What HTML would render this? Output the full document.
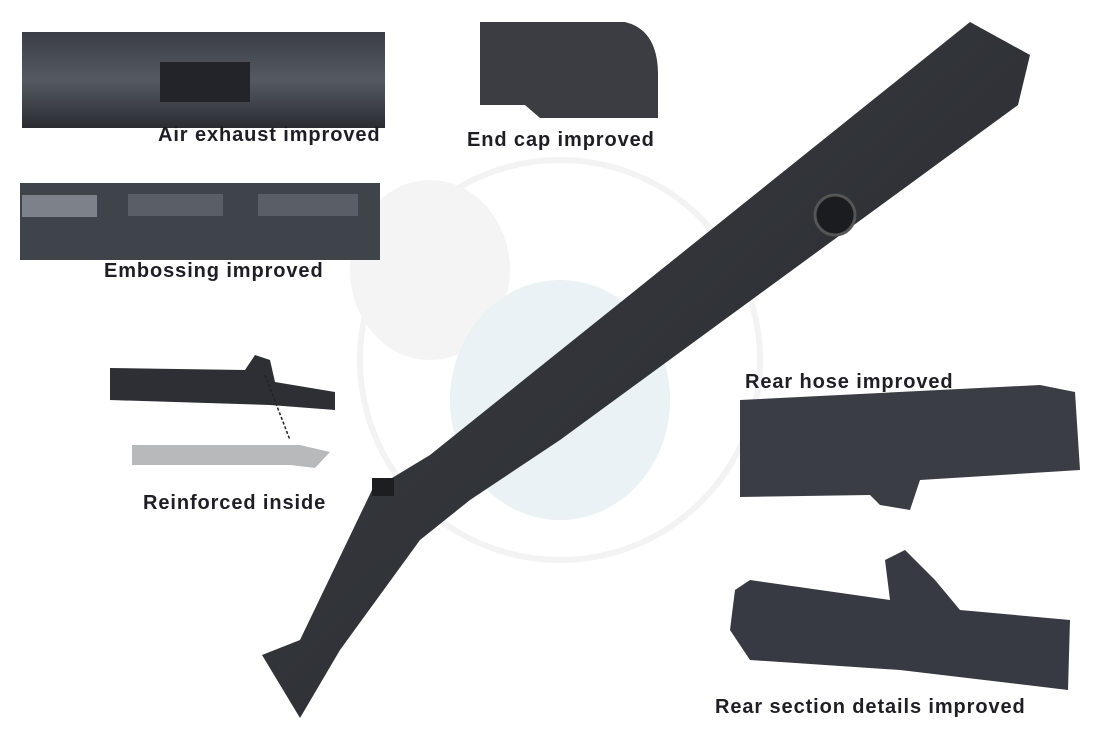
<!DOCTYPE html>
<html><head><style>
html,body{margin:0;padding:0;background:#fff;width:1100px;height:752px;overflow:hidden}
.l{position:absolute;font-family:"Liberation Sans",sans-serif;font-weight:bold;font-size:20px;letter-spacing:0.9px;color:#1e1e24;white-space:nowrap}
</style></head><body>
<svg width="1100" height="752" style="position:absolute;left:0;top:0">
<defs>
<linearGradient id="g1" x1="0" y1="0" x2="0" y2="1"><stop offset="0" stop-color="#3a3d44"/><stop offset="0.5" stop-color="#555a62"/><stop offset="1" stop-color="#2a2c31"/></linearGradient>
<linearGradient id="bm" x1="0" y1="0" x2="1" y2="1"><stop offset="0" stop-color="#3c3f45"/><stop offset="1" stop-color="#25272b"/></linearGradient>
</defs>
<circle cx="560" cy="360" r="200" fill="none" stroke="#f3f3f3" stroke-width="6"/>
<ellipse cx="430" cy="270" rx="80" ry="90" fill="#f4f4f4"/>
<ellipse cx="560" cy="400" rx="110" ry="120" fill="#eaf2f5"/>
<polygon points="262,655 300,640 372,490 430,455 970,22 1030,55 1018,105 560,440 470,500 420,540 340,650 300,718" fill="url(#bm)"/>
<circle cx="835" cy="215" r="20" fill="#1b1c20" stroke="#555" stroke-width="3"/>
<rect x="372" y="478" width="22" height="18" fill="#1d1e22"/>
<rect x="22" y="32" width="363" height="96" fill="url(#g1)"/>
<rect x="160" y="62" width="90" height="40" fill="#22242a"/>
<path d="M480 22 H625 Q658 30 658 75 V118 H540 L525 105 H480 Z" fill="#3b3d42"/>
<rect x="20" y="183" width="360" height="77" fill="#3f434a"/>
<rect x="22" y="195" width="75" height="22" fill="#7d828a"/>
<rect x="128" y="194" width="95" height="22" fill="#5a5f67"/>
<rect x="258" y="194" width="100" height="22" fill="#5a5f67"/>
<path d="M110 368 L245 370 L255 355 L270 360 L275 382 L335 392 V410 L270 405 L110 400 Z" fill="#2d2f35"/>
<path d="M132 445 H300 L330 452 L315 468 L290 465 H132 Z" fill="#b7b9bb"/>
<line x1="265" y1="375" x2="290" y2="440" stroke="#222" stroke-width="1.5" stroke-dasharray="3,2"/>
<path d="M740 400 L1040 385 L1075 392 L1080 470 L920 480 L910 510 L880 505 L870 495 L740 497 Z" fill="#3a3d44"/>
<path d="M735 590 L750 580 L890 600 L885 560 L905 550 L935 580 L960 610 L1070 620 L1068 690 L900 670 L750 660 L730 630 Z" fill="#373a42"/>
</svg>
<div class="l" style="left:158px;top:124px">Air exhaust improved</div>
<div class="l" style="left:467px;top:129px">End cap improved</div>
<div class="l" style="left:104px;top:260px">Embossing improved</div>
<div class="l" style="left:143px;top:492px">Reinforced inside</div>
<div class="l" style="left:745px;top:371px">Rear hose improved</div>
<div class="l" style="left:715px;top:696px">Rear section details improved</div>
</body></html>
